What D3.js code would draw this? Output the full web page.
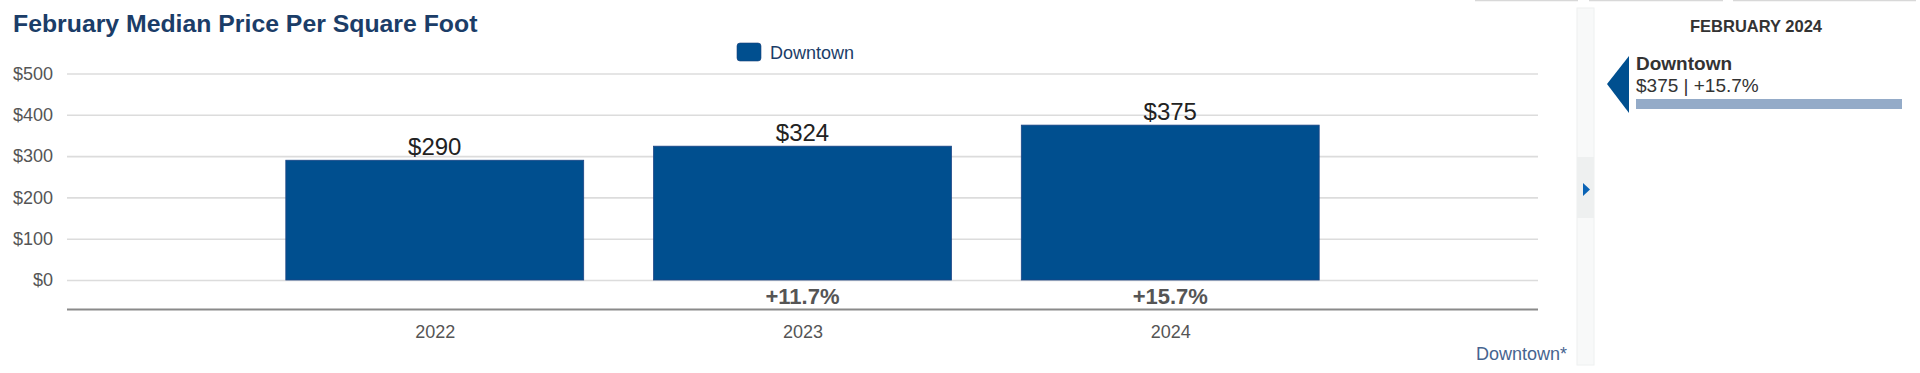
<!DOCTYPE html>
<html>
<head>
<meta charset="utf-8">
<script src="https://cdn.jsdelivr.net/npm/d3@7"></script>
<style>
  body { margin: 0; background: #fff; }
  svg { display: block; font-family: "Liberation Sans", Arial, sans-serif; }
</style>
</head>
<body>
<div id="chart"><svg width="1920" height="373"></svg></div>
<script>
// data
const years = ['2022', '2023', '2024'];
const prices = [290, 324, 375];
const changes = [null, 11.7, 15.7];
const yTicks = [0, 100, 200, 300, 400, 500];
const seriesName = 'Downtown';
const panelTitle = 'FEBRUARY 2024';

const svg = d3.select('#chart svg');
const BLUE = '#004f8f';

// scales
const scaleX = d3.scalePoint()
  .domain(years)
  .range([67, 1538])
  .padding(1);

const scaleY = d3.scaleLinear()
  .domain([0, 500])
  .range([280, 73.5]);

const barW = scaleX.step() * 0.81;

// title
svg.append('text')
  .text('February Median Price Per Square Foot')
  .attr('x', 13)
  .attr('y', 32)
  .style('fill', '#1b3d68')
  .style('font-weight', '700')
  .style('font-size', '24.8px');

// legend
const legendG = svg.append('g').attr('id', 'legend');
legendG.append('rect')
  .attr('x', 737).attr('y', 43)
  .attr('width', 24).attr('height', 18)
  .attr('rx', 3).attr('ry', 3)
  .style('fill', BLUE)
  .style('stroke', '#1a3f7a')
  .style('stroke-width', 0.6);
legendG.append('text')
  .text(seriesName)
  .attr('x', 770).attr('y', 59)
  .style('fill', '#1b3d68')
  .style('font-size', '18px');

// grid + y axis
const yAxis = d3.axisLeft(scaleY)
  .tickValues(yTicks)
  .tickSize(-(1538 - 67))
  .tickPadding(14)
  .tickFormat(d => '$' + d);

const yG = svg.append('g')
  .attr('transform', 'translate(67,0)')
  .call(yAxis);
yG.select('.domain').remove();
yG.selectAll('.tick line')
  .style('stroke', '#dcdcdc')
  .style('stroke-width', 1.6);
yG.selectAll('.tick text')
  .style('fill', '#555')
  .style('font-size', '18px')
  .style('font-family', '"Liberation Sans", Arial, sans-serif');

// bars
svg.append('g').attr('id', 'bars')
  .selectAll('rect')
  .data(prices)
  .join('rect')
  .attr('x', (d, i) => scaleX(years[i]) - barW / 2)
  .attr('y', d => scaleY(d))
  .attr('width', barW)
  .attr('height', d => scaleY(0) - scaleY(d))
  .style('fill', BLUE)
  .style('stroke', '#1c4585')
  .style('stroke-width', 0.8);

// value labels
svg.append('g').attr('id', 'values')
  .selectAll('text')
  .data(prices)
  .join('text')
  .text(d => '$' + d)
  .attr('x', (d, i) => scaleX(years[i]))
  .attr('y', d => scaleY(d) - 5)
  .style('text-anchor', 'middle')
  .style('fill', '#222')
  .style('font-size', '24px');

// change labels
svg.append('g').attr('id', 'changes')
  .selectAll('text')
  .data(changes)
  .join('text')
  .text(d => d == null ? '' : '+' + d.toFixed(1) + '%')
  .attr('x', (d, i) => scaleX(years[i]))
  .attr('y', 304)
  .style('text-anchor', 'middle')
  .style('fill', '#555')
  .style('font-weight', '700')
  .style('font-size', '22px');

// x axis
const xAxis = d3.axisBottom(scaleX).tickSize(0).tickPadding(16);
const xG = svg.append('g')
  .attr('transform', 'translate(0,309.5)')
  .call(xAxis);
xG.select('.domain')
  .attr('d', 'M67,0H1538')
  .style('stroke', '#8a8a8a')
  .style('stroke-width', 2);
xG.selectAll('.tick text')
  .style('fill', '#555')
  .style('font-size', '18px')
  .style('font-family', '"Liberation Sans", Arial, sans-serif');

// footnote series label
svg.append('text')
  .text(seriesName + '*')
  .attr('x', 1567).attr('y', 360)
  .style('text-anchor', 'end')
  .style('fill', '#46648f')
  .style('font-size', '18px');

// top border segments
[[1475, 1578], [1589, 1723], [1733, 1916]].forEach(s => {
  svg.append('line')
    .attr('x1', s[0]).attr('x2', s[1])
    .attr('y1', 0.5).attr('y2', 0.5)
    .style('stroke', '#d8d8d8')
    .style('stroke-width', 1.5);
});

// side toggle strip
svg.append('rect')
  .attr('x', 1577).attr('y', 8)
  .attr('width', 17).attr('height', 357)
  .style('fill', '#f8f9f9')
  .style('stroke', '#eef0f0');
svg.append('rect')
  .attr('x', 1577).attr('y', 157)
  .attr('width', 17).attr('height', 61)
  .style('fill', '#eef0f0');
svg.append('path')
  .attr('d', 'M1583,183L1590,189.5L1583,196Z')
  .style('fill', '#0a63b5');

// right panel
const panel = svg.append('g').attr('id', 'panel');
panel.append('text')
  .text(panelTitle)
  .attr('x', 1756).attr('y', 32)
  .style('text-anchor', 'middle')
  .style('fill', '#333')
  .style('font-weight', '700')
  .style('font-size', '16.5px');
panel.append('path')
  .attr('d', 'M1607,84L1629,56L1629,113Z')
  .style('fill', BLUE);
panel.append('text')
  .text(seriesName)
  .attr('x', 1636).attr('y', 70)
  .style('fill', '#333')
  .style('font-weight', '700')
  .style('font-size', '19px');
panel.append('text')
  .text('$' + prices[prices.length - 1] + ' | +' + changes[changes.length - 1].toFixed(1) + '%')
  .attr('x', 1636).attr('y', 92)
  .style('fill', '#333')
  .style('font-size', '19px');
panel.append('rect')
  .attr('x', 1636).attr('y', 99)
  .attr('width', 266).attr('height', 10)
  .style('fill', '#94abc8');
</script>
</body>
</html>
